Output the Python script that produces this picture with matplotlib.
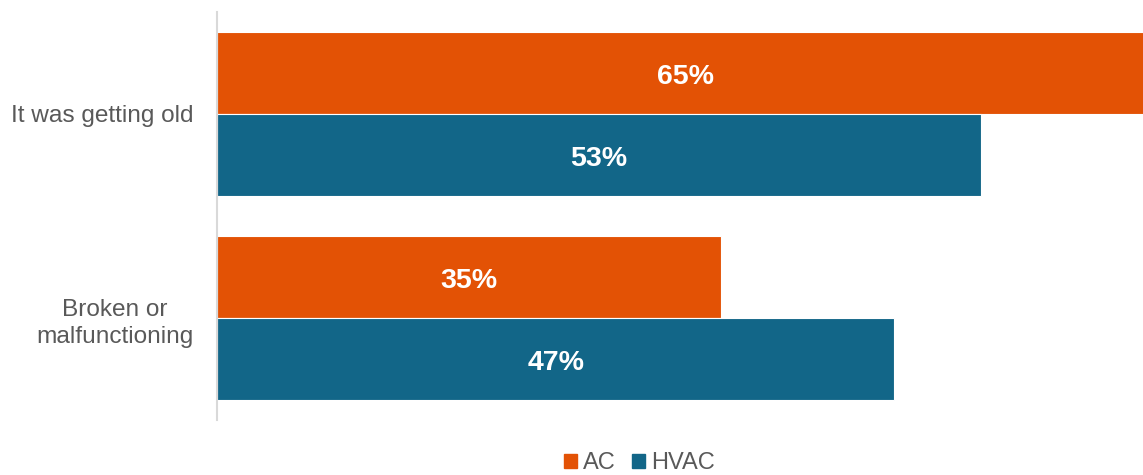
import numpy as np
import matplotlib.pyplot as plt
from matplotlib.patches import Patch

plt.rcParams['font.family'] = ['Liberation Sans', 'DejaVu Sans']

# Reasons for replacing the system (% of respondents)
reasons = ['It was getting old', 'Broken or\nmalfunctioning']
ac = [65, 35]
hvac = [53, 47]
series = ['AC', 'HVAC']

ac_color = '#E35205'
hvac_color = '#126688'
text_gray = '#595959'

fig = plt.figure(figsize=(11.43, 4.75), dpi=100)
ax = fig.add_axes([217 / 1143, 1 - 420 / 475, 1 - 217 / 1143, 408 / 475])

y = np.arange(len(reasons))
h = 0.4
b1 = ax.barh(y - h / 2, ac, height=h, color=ac_color, edgecolor='white', linewidth=0.8)
b2 = ax.barh(y + h / 2, hvac, height=h, color=hvac_color, edgecolor='white', linewidth=0.8)

for bars, vals in ((b1, ac), (b2, hvac)):
    for rect, v in zip(bars, vals):
        ax.annotate(f'{v}%', (v / 2, rect.get_y() + rect.get_height() / 2),
                    xytext=(0, -3), textcoords='offset points',
                    ha='center', va='center', color='white', fontsize=20.5,
                    fontweight='bold', annotation_clip=False)

ax.set_xlim(0, 64.25)
ax.set_ylim(1.5, -0.5)
ax.set_yticks(y)
ax.set_yticklabels(reasons, fontsize=17.6, color=text_gray)
for lbl in ax.get_yticklabels():
    lbl.set_multialignment('center')
    lbl.set_linespacing(1.35)
ax.tick_params(axis='y', length=0, pad=17)
ax.set_xticks([])
for s in ('top', 'right', 'bottom'):
    ax.spines[s].set_visible(False)
ax.spines['left'].set_color('#d9d9d9')
ax.spines['left'].set_linewidth(1.5)

handles = [Patch(color=ac_color), Patch(color=hvac_color)]
fig.legend(handles, series, loc='center', bbox_to_anchor=(639 / 1143, 1 - 463 / 475),
           ncol=2, frameon=False, fontsize=17, labelcolor=text_gray,
           handlelength=0.55, handleheight=0.55, handletextpad=0.25,
           columnspacing=0.7)

fig.savefig('out.png', dpi=100)
